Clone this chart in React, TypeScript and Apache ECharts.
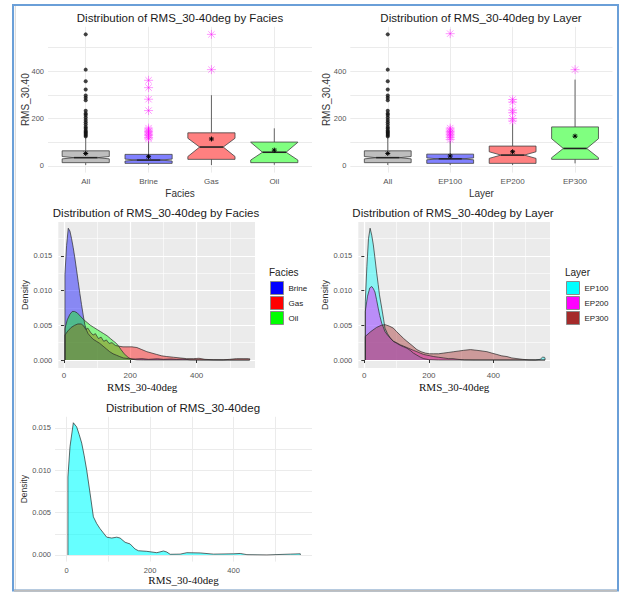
import React, { useEffect, useRef } from 'react';
import * as echarts from 'echarts';

// ---------- Box plot data ----------
const faciesCats = ['All', 'Brine', 'Gas', 'Oil'];
const layerCats = ['All', 'EP100', 'EP200', 'EP300'];

const faciesLow = [4, 4, 4, 5];
const faciesQ1 = [14, 11, 28, 14];
const faciesMed = [35, 25, 80, 58];
const faciesQ3 = [64, 49, 140, 101];
const faciesHigh = [120, 105, 299, 159];
const faciesNotchLo = [30, 21, 40, 25];
const faciesNotchHi = [40, 29, 117, 100];
const faciesMean = [53, 39, 114, 67];

const layerLow = [4, 4, 4, 11];
const layerQ1 = [14, 11, 11, 28];
const layerMed = [35, 30, 46, 74];
const layerQ3 = [64, 50, 84, 165];
const layerHigh = [120, 106, 180, 365];
const layerNotchLo = [30, 26, 32, 35];
const layerNotchHi = [40, 34, 60, 115];
const layerMean = [53, 42, 60, 126];

const allOutliers = [125, 130, 135, 140, 145, 150, 158, 165, 175, 185, 194, 205, 215, 222, 233, 278, 288, 298, 323, 358, 407, 556];
const brineOutliers = [114, 120, 128, 134, 140, 146, 152, 160, 234, 282, 331, 362];
const gasOutliers = [407, 556];
const ep100Outliers = [112, 120, 127, 134, 140, 146, 152, 160, 559];
const ep200Outliers = [190, 200, 225, 236, 270, 281];
const ep300Outliers = [407];

const boxFills = ['#BEBEBE', '#8080FF', '#FF8080', '#80FF80'];

// ---------- Density data ([RMS, density]) ----------
const brineDensity = [[3,0.0123],[8,0.0165],[13,0.0190],[18,0.0186],[23,0.0175],[28,0.0162],[33,0.0147],[38,0.0130],[43,0.0113],[48,0.0096],[53,0.0080],[58,0.0065],[63,0.0051],[68,0.0043],[73,0.0038],[80,0.0034],[88,0.0030],[98,0.0027],[108,0.0024],[118,0.0020],[128,0.0016],[138,0.0012],[148,0.0009],[158,0.0007],[168,0.0005],[179,0.0003],[195,0.0002],[215,0.00015],[235,0.0002],[255,0.0001],[282,0.00018],[300,0.0001],[323,0.00015],[340,0.0001],[358,0.00015],[380,0.00003],[420,0.00001],[480,0],[560,0]];
const gasDensity = [[3,0.0036],[12,0.0042],[22,0.0047],[32,0.0050],[42,0.0052],[52,0.0052],[60,0.0049],[66,0.0044],[72,0.0046],[80,0.0040],[88,0.0036],[95,0.0038],[104,0.0031],[112,0.0033],[120,0.0027],[128,0.0029],[136,0.0024],[145,0.0025],[155,0.0021],[165,0.0020],[178,0.0019],[190,0.0019],[205,0.0019],[220,0.0018],[235,0.0015],[250,0.0012],[265,0.0010],[280,0.0008],[295,0.0006],[310,0.0005],[330,0.0004],[350,0.0003],[370,0.0002],[390,0.0002],[407,0.00025],[425,0.0001],[450,0.00004],[480,0.00003],[500,0.0001],[520,0.0002],[540,0.0002],[556,0.0002],[560,0.00018]];
const oilDensity = [[3,0.0045],[10,0.0058],[18,0.0066],[25,0.0070],[32,0.0070],[40,0.0068],[50,0.0063],[60,0.0058],[70,0.0054],[80,0.0050],[90,0.0047],[100,0.0044],[110,0.0041],[120,0.0038],[130,0.0035],[140,0.0031],[150,0.0027],[158,0.0024],[165,0.0020],[172,0.0015],[180,0.0010],[188,0.0006],[196,0.0003],[205,0.0001],[220,0.00002],[240,0],[560,0]];

const ep100Density = [[3,0.0084],[8,0.0135],[13,0.0175],[18,0.0190],[23,0.0180],[28,0.0166],[33,0.0147],[38,0.0127],[43,0.0109],[47,0.0094],[54,0.0075],[60,0.0058],[64,0.0046],[72,0.0038],[80,0.0032],[90,0.0027],[101,0.0024],[112,0.0021],[122,0.0019],[132,0.0017],[142,0.0014],[152,0.0010],[163,0.0007],[174,0.0004],[184,0.0002],[200,0.00005],[230,0],[530,0],[545,0.0001],[552,0.0004],[558,0.0004],[560,0.0003]];
const ep200Density = [[3,0.0070],[10,0.0092],[17,0.0104],[23,0.0106],[28,0.0103],[33,0.0098],[38,0.0087],[43,0.0075],[48,0.0064],[54,0.0053],[60,0.0046],[64,0.0041],[72,0.0036],[80,0.0032],[90,0.0027],[100,0.0025],[111,0.0022],[122,0.0020],[132,0.0018],[142,0.0016],[152,0.0014],[163,0.0012],[173,0.0010],[184,0.0008],[194,0.0007],[205,0.0006],[215,0.0005],[230,0.0004],[246,0.0003],[260,0.0002],[275,0.0002],[290,0.0001],[310,0.00002],[340,0],[560,0]];
const ep300Density = [[3,0.0034],[20,0.0041],[38,0.0047],[52,0.0050],[64,0.0051],[77,0.0049],[90,0.0046],[100,0.0041],[111,0.0036],[122,0.0031],[132,0.0027],[148,0.0021],[163,0.0015],[176,0.0012],[189,0.0010],[202,0.0009],[215,0.0009],[230,0.0009],[246,0.0010],[262,0.0011],[277,0.0012],[293,0.0013],[308,0.0014],[329,0.0015],[349,0.0014],[365,0.0013],[380,0.0012],[395,0.0010],[411,0.0008],[426,0.0006],[442,0.0005],[457,0.0003],[473,0.0002],[490,0.0001],[510,0.00002],[540,0],[560,0]];

const allDensity = [[3,0.0092],[8,0.0128],[16,0.0156],[24,0.0151],[30,0.0142],[36,0.0132],[42,0.0117],[48,0.0100],[56,0.0073],[64,0.0045],[72,0.0037],[80,0.0031],[88,0.0026],[96,0.0021],[108,0.0020],[120,0.0021],[128,0.0020],[140,0.0015],[152,0.0013],[164,0.0007],[172,0.0005],[192,0.00043],[216,0.00027],[232,0.00047],[240,0.00035],[248,0.00008],[272,0.0001],[288,0.00027],[320,0.00024],[352,0.0001],[400,0.00014],[416,0.00018],[432,0.00004],[480,0.00001],[536,0.0001],[560,0.00014]];

const boxTicks = [0, 100, 200, 300, 400, 500];
const boxLabels = [0, 200, 400];
const densXMajor = [0, 200, 400];
const densXMinor = [100, 300, 500];
const densYMajor = [0, 0.005, 0.01, 0.015];
const densYMinor = [0.0025, 0.0075, 0.0125, 0.0175];
const allYTicks = [0, 0.0025, 0.005, 0.0075, 0.01, 0.0125, 0.015];
const allXTicks = [0, 100, 200, 300, 400, 500];

const SANS = 'Liberation Sans, Arial, sans-serif';
const SERIF = 'Liberation Serif, Times New Roman, serif';

const boxRender = (fills: string[]) => (params: any, api: any) => {
  const i = api.value(0);
  const c0 = api.coord([i, 0]);
  const step = api.coord([i + 1, 0])[0] - c0[0];
  const cx = c0[0];
  const hw = step * 0.375;
  const nw = hw * 0.5;
  const y = (v: number) => api.coord([i, v])[1];
  const lw = y(api.value(1)), q1 = y(api.value(2)), md = y(api.value(3)), q3 = y(api.value(4));
  const hi = y(api.value(5)), nl = y(api.value(6)), nh = y(api.value(7));
  const stroke = '#404040';
  return {
    type: 'group',
    children: [
      { type: 'line', shape: { x1: cx, y1: q3, x2: cx, y2: hi }, style: { stroke, lineWidth: 0.8 } },
      { type: 'line', shape: { x1: cx, y1: q1, x2: cx, y2: lw }, style: { stroke, lineWidth: 0.8 } },
      {
        type: 'polygon',
        shape: { points: [[cx - hw, q3], [cx + hw, q3], [cx + hw, nh], [cx + nw, md], [cx + hw, nl], [cx + hw, q1], [cx - hw, q1], [cx - hw, nl], [cx - nw, md], [cx - hw, nh]] },
        style: { fill: fills[params.dataIndex], stroke, lineWidth: 0.8 },
      },
      { type: 'line', shape: { x1: cx - nw, y1: md, x2: cx + nw, y2: md }, style: { stroke: '#222', lineWidth: 1.6 } },
    ],
  };
};

const starRender = (r: number, color: string, width: number, opacity: number) => (params: any, api: any) => {
  const p = api.coord([api.value(0), api.value(1)]);
  const d = r * 0.7071;
  const st = { stroke: color, lineWidth: width, opacity };
  return {
    type: 'group',
    children: [
      { type: 'line', shape: { x1: p[0] - r, y1: p[1], x2: p[0] + r, y2: p[1] }, style: st },
      { type: 'line', shape: { x1: p[0], y1: p[1] - r, x2: p[0], y2: p[1] + r }, style: st },
      { type: 'line', shape: { x1: p[0] - d, y1: p[1] - d, x2: p[0] + d, y2: p[1] + d }, style: st },
      { type: 'line', shape: { x1: p[0] - d, y1: p[1] + d, x2: p[0] + d, y2: p[1] - d }, style: st },
    ],
  };
};

const densitySeries = (name: string, pts: number[][], color: string, opacity: number, xi: number, yi: number) => ({
  type: 'line',
  name,
  xAxisIndex: xi,
  yAxisIndex: yi,
  symbol: 'none',
  showSymbol: false,
  smooth: false,
  silent: true,
  data: [[pts[0][0], 0], ...pts, [pts[pts.length - 1][0], 0]],
  lineStyle: { color: '#2a2a2a', width: 0.7 },
  areaStyle: { color, opacity },
  itemStyle: { color },
});

const catXAxis = (gi: number, cats: string[], name: string) => ({
  type: 'value', gridIndex: gi, min: -0.6, max: 3.6,
  axisLine: { show: false },
  axisTick: { show: false, customValues: [0, 1, 2, 3] },
  splitLine: { show: true, customValues: [0, 1, 2, 3], lineStyle: { color: '#EBEBEB', width: 1 } },
  axisLabel: { customValues: [0, 1, 2, 3], formatter: (v: number) => cats[Math.round(v)], fontSize: 8, color: '#555', margin: 5, fontFamily: SANS },
  name, nameLocation: 'middle', nameGap: 15.5, nameMoveOverlap: false,
  nameTextStyle: { fontSize: 10, color: '#333', fontFamily: SANS },
});

const boxYAxis = (gi: number, gap: number) => ({
  type: 'value', gridIndex: gi, min: -28, max: 588,
  axisLine: { show: false },
  axisTick: { show: false, customValues: boxTicks },
  splitLine: { show: true, customValues: boxTicks, lineStyle: { color: '#EBEBEB', width: 1 } },
  axisLabel: { customValues: boxLabels, fontSize: 7.5, color: '#555', margin: 4, fontFamily: SANS },
  name: 'RMS_30.40', nameLocation: 'middle', nameGap: gap, nameMoveOverlap: false,
  nameTextStyle: { fontSize: 10, color: '#333', fontFamily: SANS },
});

const grayXMajor = (gi: number, min: number, max: number, pad: number[]) => ({
  type: 'value', gridIndex: gi, min, max,
  axisLine: { show: false },
  axisTick: { show: true, length: 3, customValues: densXMajor, lineStyle: { color: '#333', width: 1 } },
  splitLine: { show: true, customValues: densXMajor, lineStyle: { color: '#FFFFFF', width: 1.2 } },
  axisLabel: { customValues: densXMajor, fontSize: 8, color: '#555', margin: 3, fontFamily: SANS },
  name: 'RMS_30-40deg', nameLocation: 'middle', nameGap: 13, nameMoveOverlap: false,
  nameTextStyle: { fontSize: 11, color: '#111', fontFamily: SERIF, padding: pad },
});
const grayXMinor = (gi: number, min: number, max: number) => ({
  type: 'value', gridIndex: gi, min, max, position: 'top',
  axisLine: { show: false }, axisLabel: { show: false },
  axisTick: { show: false, customValues: densXMinor },
  splitLine: { show: true, customValues: densXMinor, lineStyle: { color: '#FFFFFF', width: 0.6 } },
});
const grayYMajor = (gi: number) => ({
  type: 'value', gridIndex: gi, min: -0.00115, max: 0.0199,
  axisLine: { show: false },
  axisTick: { show: true, length: 3, customValues: densYMajor, lineStyle: { color: '#333', width: 1 } },
  splitLine: { show: true, customValues: densYMajor, lineStyle: { color: '#FFFFFF', width: 1.2 } },
  axisLabel: { customValues: densYMajor, formatter: (v: number) => v.toFixed(3), fontSize: 7.5, color: '#555', margin: 6, fontFamily: SANS },
  name: 'Density', nameLocation: 'middle', nameGap: 28.5, nameMoveOverlap: false,
  nameTextStyle: { fontSize: 9, color: '#333', fontFamily: SANS },
});
const grayYMinor = (gi: number) => ({
  type: 'value', gridIndex: gi, min: -0.00115, max: 0.0199, position: 'right',
  axisLine: { show: false }, axisLabel: { show: false },
  axisTick: { show: false, customValues: densYMinor },
  splitLine: { show: true, customValues: densYMinor, lineStyle: { color: '#FFFFFF', width: 0.6 } },
});

const titleText = (text: string, x: number, y: number) => ({
  type: 'text', x, y, z: 50,
  style: { text, fill: '#1a1a1a', fontSize: 11.5, fontFamily: SANS, align: 'center', verticalAlign: 'middle' },
});

export default function App() {
  const ref = useRef<HTMLDivElement>(null);
  useEffect(() => {
    if (!ref.current) return;
    const chart = echarts.init(ref.current, null, { renderer: 'svg' });
    const option: any = {
      animation: false,
      backgroundColor: '#FFFFFF',
      grid: [
        { left: 48, top: 26.8, width: 264, height: 145.8, outerBoundsMode: 'none' },
        { left: 350.3, top: 26.8, width: 262.2, height: 145.8, outerBoundsMode: 'none' },
        { left: 58.3, top: 222, width: 196.7, height: 146, show: true, backgroundColor: '#EBEBEB', borderWidth: 0, outerBoundsMode: 'none' },
        { left: 358.3, top: 222, width: 191.7, height: 146, show: true, backgroundColor: '#EBEBEB', borderWidth: 0, outerBoundsMode: 'none' },
        { left: 55, top: 416.8, width: 257, height: 144.8, outerBoundsMode: 'none' },
      ],
      xAxis: [
        catXAxis(0, faciesCats, 'Facies'),
        catXAxis(1, layerCats, 'Layer'),
        grayXMajor(2, -17, 576, [0, 29, 0, 0]),
        grayXMinor(2, -17, 576),
        grayXMajor(3, -18.6, 575.4, [0, 0, 0, 0]),
        grayXMinor(3, -18.6, 575.4),
        {
          type: 'value', gridIndex: 4, min: -28, max: 588,
          axisLine: { show: false },
          axisTick: { show: false, customValues: allXTicks },
          splitLine: { show: true, customValues: allXTicks, lineStyle: { color: '#EBEBEB', width: 1 } },
          axisLabel: { customValues: densXMajor, fontSize: 7.5, color: '#555', margin: 5, fontFamily: SANS },
          name: 'RMS_30-40deg', nameLocation: 'middle', nameGap: 12.5, nameMoveOverlap: false,
          nameTextStyle: { fontSize: 11, color: '#111', fontFamily: SERIF },
        },
      ],
      yAxis: [
        boxYAxis(0, 18),
        boxYAxis(1, 19),
        grayYMajor(2),
        grayYMinor(2),
        grayYMajor(3),
        grayYMinor(3),
        {
          type: 'value', gridIndex: 4, min: -0.00078, max: 0.0163,
          axisLine: { show: false },
          axisTick: { show: false, customValues: allYTicks },
          splitLine: { show: true, customValues: allYTicks, lineStyle: { color: '#EBEBEB', width: 1 } },
          axisLabel: { customValues: densYMajor.slice(0, 4), formatter: (v: number) => v.toFixed(3), fontSize: 7.5, color: '#555', margin: 4, fontFamily: SANS },
          name: 'Density', nameLocation: 'middle', nameGap: 26.5, nameMoveOverlap: false,
          nameTextStyle: { fontSize: 8.5, color: '#333', fontFamily: SANS },
        },
      ],
      legend: [
        {
          data: [
            { name: 'Brine', itemStyle: { color: '#0000FF' } },
            { name: 'Gas', itemStyle: { color: '#FF0000' } },
            { name: 'Oil', itemStyle: { color: '#00FF00' } },
          ],
          orient: 'vertical', left: 270, top: 281, itemWidth: 13, itemHeight: 13, itemGap: 1, icon: 'rect',
          itemStyle: { borderColor: '#8a8a8a', borderWidth: 1 },
          textStyle: { fontSize: 8, color: '#222', fontFamily: SANS }, selectedMode: false, padding: 0,
        },
        {
          data: [
            { name: 'EP100', itemStyle: { color: '#00FFFF' } },
            { name: 'EP200', itemStyle: { color: '#FF00FF' } },
            { name: 'EP300', itemStyle: { color: '#A52A2A' } },
          ],
          orient: 'vertical', left: 566, top: 281, itemWidth: 13, itemHeight: 13, itemGap: 1, icon: 'rect',
          itemStyle: { borderColor: '#8a8a8a', borderWidth: 1 },
          textStyle: { fontSize: 8, color: '#222', fontFamily: SANS }, selectedMode: false, padding: 0,
        },
      ],
      graphic: [
        titleText('Distribution of RMS_30-40deg by Facies', 180, 18),
        titleText('Distribution of RMS_30-40deg by Layer', 481, 18),
        titleText('Distribution of RMS_30-40deg by Facies', 156, 213),
        titleText('Distribution of RMS_30-40deg by Layer', 453, 213),
        titleText('Distribution of RMS_30-40deg', 183, 408),
        { type: 'text', x: 269, y: 272, style: { text: 'Facies', fill: '#222', fontSize: 10, fontFamily: SANS, align: 'left', verticalAlign: 'middle' } },
        { type: 'text', x: 565, y: 272, style: { text: 'Layer', fill: '#222', fontSize: 10, fontFamily: SANS, align: 'left', verticalAlign: 'middle' } },
        { type: 'line', z: 99, shape: { x1: 15.3, y1: 6, x2: 15.3, y2: 590 }, style: { stroke: '#D6D6D6', lineWidth: 1 } },
        { type: 'rect', z: 100, shape: { x: 13, y: 5, width: 605, height: 585.5 }, style: { fill: 'none', stroke: '#6A9FD8', lineWidth: 2 } },
        { type: 'line', z: 101, shape: { x1: 14, y1: 590.8, x2: 617, y2: 590.8 }, style: { stroke: '#BDBDBD', lineWidth: 2 } },
      ],
      series: [
        // Panel 1
        { type: 'custom', xAxisIndex: 0, yAxisIndex: 0, renderItem: boxRender(boxFills), silent: true, z: 2,
          data: faciesCats.map((_, i) => [i, faciesLow[i], faciesQ1[i], faciesMed[i], faciesQ3[i], faciesHigh[i], faciesNotchLo[i], faciesNotchHi[i]]) },
        { type: 'scatter', xAxisIndex: 0, yAxisIndex: 0, symbol: 'circle', symbolSize: 4, silent: true, z: 3,
          itemStyle: { color: '#111' }, data: allOutliers.map((v) => [0, v]) },
        { type: 'custom', xAxisIndex: 0, yAxisIndex: 0, renderItem: starRender(4.5, '#FF00FF', 1, 0.4), silent: true, z: 3,
          data: [...brineOutliers.map((v) => [1, v]), ...gasOutliers.map((v) => [2, v])] },
        { type: 'custom', xAxisIndex: 0, yAxisIndex: 0, renderItem: starRender(2.5, '#000', 1, 1), silent: true, z: 4,
          data: faciesMean.map((v, i) => [i, v]) },
        // Panel 2
        { type: 'custom', xAxisIndex: 1, yAxisIndex: 1, renderItem: boxRender(boxFills), silent: true, z: 2,
          data: layerCats.map((_, i) => [i, layerLow[i], layerQ1[i], layerMed[i], layerQ3[i], layerHigh[i], layerNotchLo[i], layerNotchHi[i]]) },
        { type: 'scatter', xAxisIndex: 1, yAxisIndex: 1, symbol: 'circle', symbolSize: 4, silent: true, z: 3,
          itemStyle: { color: '#111' }, data: allOutliers.map((v) => [0, v]) },
        { type: 'custom', xAxisIndex: 1, yAxisIndex: 1, renderItem: starRender(4.5, '#FF00FF', 1, 0.4), silent: true, z: 3,
          data: [...ep100Outliers.map((v) => [1, v]), ...ep200Outliers.map((v) => [2, v]), ...ep300Outliers.map((v) => [3, v])] },
        { type: 'custom', xAxisIndex: 1, yAxisIndex: 1, renderItem: starRender(2.5, '#000', 1, 1), silent: true, z: 4,
          data: layerMean.map((v, i) => [i, v]) },
        // Panel 3
        densitySeries('Brine', brineDensity, '#0000FF', 0.42, 2, 2),
        densitySeries('Gas', gasDensity, '#FF0000', 0.42, 2, 2),
        densitySeries('Oil', oilDensity, '#00FF00', 0.42, 2, 2),
        // Panel 4
        densitySeries('EP100', ep100Density, '#00FFFF', 0.42, 4, 4),
        densitySeries('EP200', ep200Density, '#FF00FF', 0.42, 4, 4),
        densitySeries('EP300', ep300Density, '#A52A2A', 0.42, 4, 4),
        // Panel 5
        densitySeries('All', allDensity, '#00FFFF', 0.6, 6, 6),
      ],
    };
    chart.setOption(option);
    return () => chart.dispose();
  }, []);
  return <div ref={ref} style={{ position: 'fixed', left: 0, top: 0, width: 620, height: 593 }} />;
}
